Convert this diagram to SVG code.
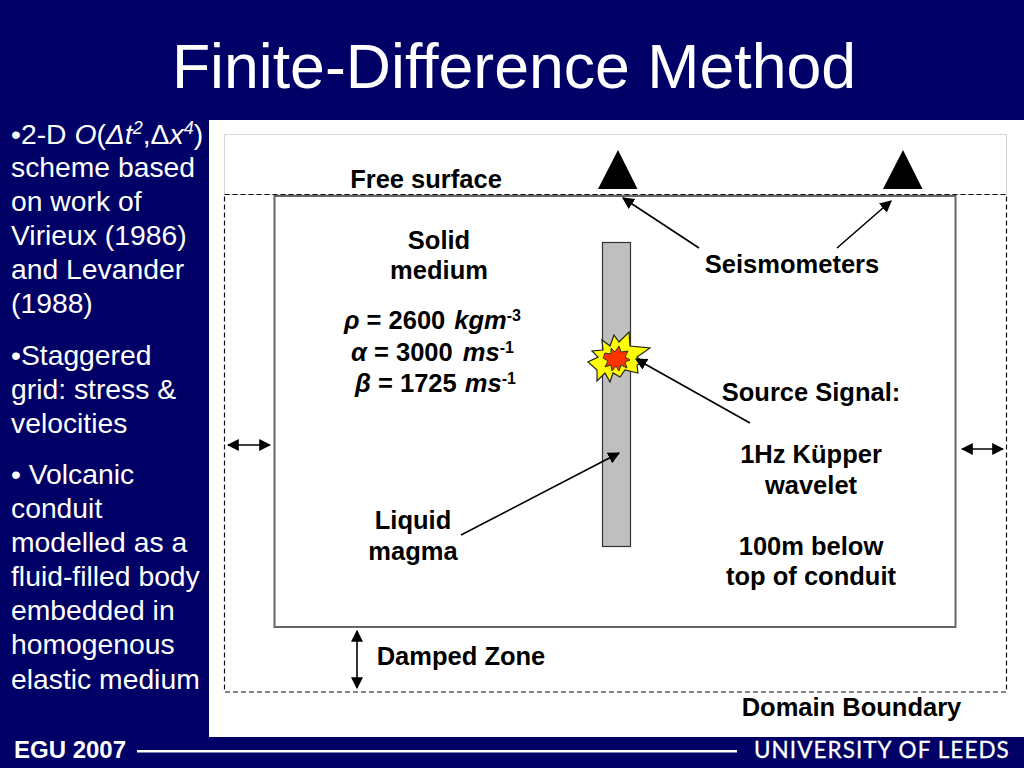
<svg xmlns="http://www.w3.org/2000/svg" width="1024" height="768" viewBox="0 0 1024 768">
<style>
text{font-family:"Liberation Sans",Arial,sans-serif;font-variant-ligatures:none}
.b{font-size:28.300px;fill:#fff}
.l{font-size:25.500px;font-weight:bold;fill:#000;text-anchor:middle}
.c{stroke:#000;stroke-width:1.6;fill:none}
.a{marker-end:url(#h)}
.aa{marker-end:url(#h);marker-start:url(#hs)}
</style>
<defs>
<marker id="h" viewBox="0 0 10 10" refX="9" refY="5" markerWidth="12" markerHeight="12" markerUnits="userSpaceOnUse" orient="auto"><path d="M0 0L10 5L0 10Z" fill="#000"/></marker>
<marker id="hs" viewBox="0 0 10 10" refX="1" refY="5" markerWidth="12" markerHeight="12" markerUnits="userSpaceOnUse" orient="auto"><path d="M10 0L0 5L10 10Z" fill="#000"/></marker>
</defs>
<rect width="1024" height="768" fill="#000066"/>
<rect x="209" y="120" width="815" height="617" fill="#fff"/>
<text x="514" y="88" font-size="62.600" fill="#fff" text-anchor="middle">Finite-Difference Method</text>
<g id="bullets" class="b">
<text x="11" y="144">•2-D <tspan font-style="italic">O</tspan>(<tspan font-style="italic">Δt</tspan><tspan font-size="18" dy="-10" font-style="italic">2</tspan><tspan dy="10">,Δ</tspan><tspan font-style="italic">x</tspan><tspan font-size="18" dy="-10" font-style="italic">4</tspan><tspan dy="10">)</tspan></text>
<text x="11" y="177">scheme based</text>
<text x="11" y="211">on work of</text>
<text x="11" y="245">Virieux (1986)</text>
<text x="11" y="279">and Levander</text>
<text x="11" y="313">(1988)</text>
<text x="11" y="365">•Staggered</text>
<text x="11" y="399">grid: stress &amp;</text>
<text x="11" y="433">velocities</text>
<text x="11" y="484">• Volcanic</text>
<text x="11" y="518">conduit</text>
<text x="11" y="552">modelled as a</text>
<text x="11" y="586">fluid-filled body</text>
<text x="11" y="620">embedded in</text>
<text x="11" y="654">homogenous</text>
<text x="11" y="689">elastic medium</text>
</g>
<g id="free-surface-box"><rect x="224.500" y="134.500" width="782" height="60" fill="none" stroke="#aaa" stroke-width="1" stroke-dasharray="1 1"/></g>
<g id="domain"><rect x="224.500" y="194.500" width="782" height="497.500" fill="none" stroke="#111" stroke-width="1.200" stroke-dasharray="5 3"/></g>
<g id="solid"><rect x="274.500" y="196" width="681" height="431" fill="#fff" stroke="#666" stroke-width="2"/></g>
<g id="conduit"><rect x="602.500" y="242.500" width="28" height="304" fill="#bfbfbf" stroke="#333" stroke-width="1.200"/></g>
<g id="source">
<path d="M602 340L610 346L614 335L619 342L629 332L630 346L650 348L637 357L643 362L637 365L638 373L625 370L620 377L613 373L610 382L605 373L597 381L597 370L588 362L598 357L592 351L603 350Z" fill="#ffff00" stroke="#222" stroke-width="1.200"/>
<path d="M605 353L611 354L611 348L615 352L619 346L621 352L628 351L625 357L630 360L625 362L627 368L621 365L619 371L616 366L612 371L611 365L605 367L608 361L603 358Z" fill="#ff3300" stroke="#333" stroke-width="1"/>
</g>
<g id="seismometer-1"><path d="M618 150L637.500 189H598Z" fill="#000"/></g>
<g id="seismometer-2"><path d="M903 150L922.500 189H883Z" fill="#000"/></g>
<g id="connectors">
<path class="c a" d="M699 248L623 198"/>
<path class="c a" d="M837 248L891 201"/>
<path class="c a" d="M750 423L636 359"/>
<path class="c a" d="M461 535L619 453"/>
<path class="c aa" d="M228 445H270"/>
<path class="c aa" d="M962 449H1003"/>
<path class="c aa" d="M357 631V688"/>
</g>
<g id="labels">
<text class="l" x="432.500" y="329"><tspan font-style="italic">ρ</tspan> = 2600 <tspan font-style="italic" dx="2">kgm</tspan><tspan font-size="16" dy="-8">-3</tspan></text>
<text class="l" x="432.500" y="361"><tspan font-style="italic">α</tspan> = 3000 <tspan font-style="italic" dx="3">ms</tspan><tspan font-size="16" dy="-8">-1</tspan></text>
<text class="l" x="435.500" y="392"><tspan font-style="italic">β</tspan> = 1725 <tspan font-style="italic" dx="1">ms</tspan><tspan font-size="16" dy="-8">-1</tspan></text>
<text class="l" x="426" y="188">Free surface</text>
<text class="l" x="439" y="248.500">Solid</text>
<text class="l" x="439" y="279">medium</text>
<text class="l" x="792" y="273">Seismometers</text>
<text class="l" x="811" y="401">Source Signal:</text>
<text class="l" x="811" y="463">1Hz Küpper</text>
<text class="l" x="811" y="493.500">wavelet</text>
<text class="l" x="811" y="555">100m below</text>
<text class="l" x="811" y="585">top of conduit</text>
<text class="l" x="413" y="528.500">Liquid</text>
<text class="l" x="413" y="559.500">magma</text>
<text class="l" x="461" y="665">Damped Zone</text>
<text class="l" x="851.500" y="716">Domain Boundary</text>
</g>
<g id="footer">
<text x="14" y="758" font-size="24" font-weight="bold" fill="#fff">EGU 2007</text>
<rect x="137" y="750" width="600" height="2.500" fill="#fff"/>
<text x="754" y="758" style="font-family:Lato,sans-serif;font-size:22.500px;letter-spacing:1.050px" fill="#fff" stroke="#fff" stroke-width="0.300">UNIVERSITY OF LEEDS</text>
</g>
</svg>
